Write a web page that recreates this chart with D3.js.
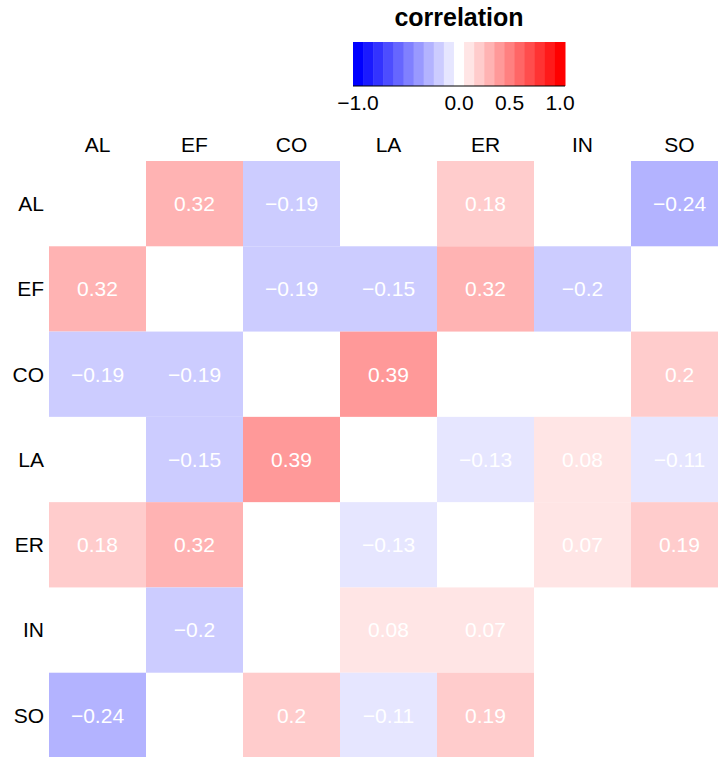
<!DOCTYPE html>
<meta charset="utf-8">
<style>
body { margin: 0; background: #fff; }
svg { font-family: "Liberation Sans", Arial, Helvetica, sans-serif; }
.lab { font-size: 21px; fill: #000; }
.val { font-size: 21px; fill: #fff; }
.legend text { font-size: 21px; fill: #000; }
</style>
<svg width="718" height="757"></svg>
<script src="https://cdn.jsdelivr.net/npm/d3@7"></script>
<script>
var vars = ["AL", "EF", "CO", "LA", "ER", "IN", "SO"];

// significant correlations only, null = left blank
var corrAL = [null, 0.32, -0.19, null, 0.18, null, -0.24];
var corrEF = [0.32, null, -0.19, -0.15, 0.32, -0.2, null];
var corrCO = [-0.19, -0.19, null, 0.39, null, null, 0.2];
var corrLA = [null, -0.15, 0.39, null, -0.13, 0.08, -0.11];
var corrER = [0.18, 0.32, null, -0.13, null, 0.07, 0.19];
var corrIN = [null, -0.2, null, 0.08, 0.07, null, null];
var corrSO = [-0.24, null, 0.2, -0.11, 0.19, null, null];
var matrix = [corrAL, corrEF, corrCO, corrLA, corrER, corrIN, corrSO];

var legendTicks = [-1, 0, 0.5, 1];

var svg = d3.select("svg");

// 21 discrete colours blue -> white -> red
var nBins = 21;
var palette = d3.range(nBins).map(function(i) {
  var t = i / (nBins - 1);
  return t < 0.5 ? d3.interpolateRgb("#0000ff", "#ffffff")(t * 2)
                 : d3.interpolateRgb("#ffffff", "#ff0000")((t - 0.5) * 2);
});
var color = d3.scaleQuantize().domain([-1, 1]).range(palette);

var x = d3.scaleBand().domain(vars).range([49, 728]);
var y = d3.scaleBand().domain(vars).range([161, 758]);

var cells = [];
matrix.forEach(function(row, i) {
  row.forEach(function(v, j) {
    if (v !== null) cells.push({r: vars[i], c: vars[j], v: v});
  });
});

svg.append("g").selectAll("rect")
    .data(cells)
  .enter().append("rect")
    .attr("x", function(d) { return x(d.c); })
    .attr("y", function(d) { return y(d.r); })
    .attr("width", x.bandwidth())
    .attr("height", y.bandwidth())
    .attr("fill", function(d) { return color(d.v); });

var fmt = function(v) { return d3.format("")(v).replace("-", "\u2212"); };

svg.append("g").selectAll("text")
    .data(cells)
  .enter().append("text")
    .attr("class", "val")
    .attr("x", function(d) { return x(d.c) + x.bandwidth() / 2; })
    .attr("y", function(d) { return y(d.r) + y.bandwidth() / 2; })
    .attr("dy", "0.35em")
    .attr("text-anchor", "middle")
    .text(function(d) { return fmt(d.v); });

// column labels
svg.append("g").selectAll("text")
    .data(vars)
  .enter().append("text")
    .attr("class", "lab")
    .attr("x", function(d) { return x(d) + x.bandwidth() / 2; })
    .attr("y", 152)
    .attr("text-anchor", "middle")
    .text(function(d) { return d; });

// row labels
svg.append("g").selectAll("text")
    .data(vars)
  .enter().append("text")
    .attr("class", "lab")
    .attr("x", 44)
    .attr("y", function(d) { return y(d) + y.bandwidth() / 2; })
    .attr("dy", "0.35em")
    .attr("text-anchor", "end")
    .text(function(d) { return d; });

// legend: bar spans the bins, ticks sit at the outer bin centres
var barX = d3.scaleLinear().domain([0, nBins]).range([353, 565]);
var tickX = d3.scaleLinear().domain([-1, 1]).range([358, 560]);
var legend = svg.append("g").attr("class", "legend");

legend.append("text")
    .attr("x", 459)
    .attr("y", 26)
    .attr("text-anchor", "middle")
    .style("font-size", "25px")
    .style("font-weight", "bold")
    .text("correlation");

legend.selectAll("rect")
    .data(palette)
  .enter().append("rect")
    .attr("x", function(d, i) { return barX(i); })
    .attr("y", 42)
    .attr("width", barX(1) - barX(0) + 0.5)
    .attr("height", 44)
    .attr("fill", function(d) { return d; });

legend.append("line")
    .attr("x1", barX(0)).attr("x2", barX(nBins))
    .attr("y1", 86).attr("y2", 86)
    .attr("stroke", "#000").attr("stroke-width", 1);

legend.selectAll("text.tick")
    .data(legendTicks)
  .enter().append("text")
    .attr("class", "tick")
    .attr("x", function(d) { return tickX(d); })
    .attr("y", 109.5)
    .attr("text-anchor", "middle")
    .text(function(d) { return d3.format(".1f")(d); });
</script>
